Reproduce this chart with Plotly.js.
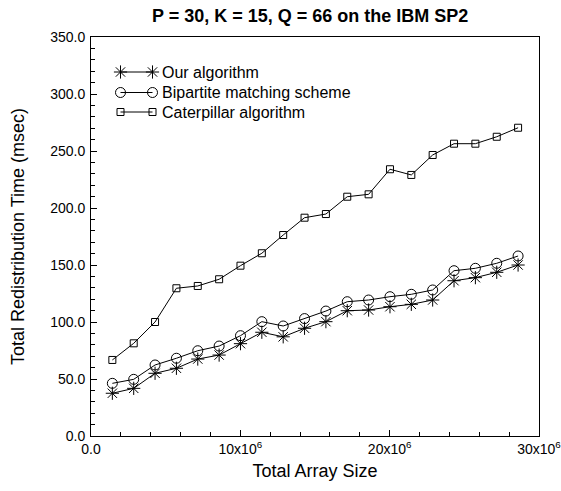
<!DOCTYPE html>
<html>
<head>
<meta charset="utf-8">
<script src="https://cdn.plot.ly/plotly-3.0.1.min.js"></script>
<style>html,body{margin:0;padding:0;background:#fff;}#chart{width:561px;height:491px;}</style>
</head>
<body>
<div id="chart"></div>
<script>
// ---- data ----
var arraySize = [1.43e6, 2.86e6, 4.29e6, 5.72e6, 7.15e6, 8.58e6, 10.01e6, 11.44e6, 12.87e6, 14.3e6,
                 15.73e6, 17.16e6, 18.59e6, 20.02e6, 21.45e6, 22.88e6, 24.31e6, 25.74e6, 27.17e6, 28.6e6];
var ourAlgorithm = [37.5, 41.8, 55, 59.4, 67.5, 71, 81, 91, 87, 94.5,
                    100.3, 109.9, 110.5, 113.4, 115.5, 119.3, 136.2, 138.9, 143.6, 150];
var bipartite = [46.2, 49.7, 62.3, 68.2, 74.8, 78.9, 88, 100.3, 96.5, 103,
                 109.6, 117.8, 119.3, 122.2, 124.3, 128.1, 145, 147.1, 151.5, 157.9];
var caterpillar = [66.7, 81.3, 100, 129.6, 131.6, 137.5, 149.4, 160.3, 176.3, 191.5,
                   194.7, 209.9, 212, 234, 229, 246.5, 256.4, 256.4, 262.5, 270.4];
var seriesNames = ["Our algorithm", "Bipartite matching scheme", "Caterpillar algorithm"];
var xTickVals = [0, 10e6, 20e6, 30e6];
var xTickText = ["0.0", "10x10<sup>6</sup>", "20x10<sup>6</sup>", "30x10<sup>6</sup>"];

// ---- styling ----
var FONT = "Liberation Sans, Arial, sans-serif";
var symbols = ["asterisk-open", "circle-open", "square-open"];
var sizes = [11, 10, 7];
var seriesData = [ourAlgorithm, bipartite, caterpillar];

var traces = [];
for (var s = 0; s < 3; s++) {
  traces.push({
    x: arraySize, y: seriesData[s], name: seriesNames[s],
    type: "scatter", mode: "lines+markers", showlegend: false,
    line: {color: "#000", width: 1},
    marker: {symbol: symbols[s], size: sizes[s], color: "#000", line: {color: "#000", width: 1}},
    cliponaxis: false
  });
}

// custom legend (line with a marker at both ends), drawn on an overlay axis in pixel units
var legRowY = [35, 55.5, 75];
var legX = [29.5, 61.5];
var annotations = [];
for (var s = 0; s < 3; s++) {
  traces.push({
    x: legX, y: [legRowY[s], legRowY[s]], xaxis: "x2", yaxis: "y2",
    type: "scatter", mode: "lines+markers", showlegend: false, hoverinfo: "skip",
    line: {color: "#000", width: 1},
    marker: {symbol: symbols[s], size: sizes[s], color: "#000", line: {color: "#000", width: 1}}
  });
  annotations.push({
    x: 69, y: legRowY[s], xref: "x2", yref: "y2", xanchor: "left", yanchor: "middle",
    text: seriesNames[s], showarrow: false, font: {family: FONT, size: 16, color: "#000"}
  });
}

var layout = {
  width: 561, height: 491,
  margin: {l: 91, r: 22, t: 37, b: 55, pad: 0},
  paper_bgcolor: "#fff", plot_bgcolor: "#fff",
  font: {family: FONT, color: "#000"},
  title: {text: "<b>P = 30, K = 15, Q = 66 on the IBM SP2</b>", font: {family: FONT, size: 18, color: "#000"},
          x: 0.553, xanchor: "center", y: 0.968, yanchor: "middle"},
  xaxis: {
    range: [0, 30e6], showgrid: false, zeroline: false,
    showline: true, mirror: true, linecolor: "#000", linewidth: 1,
    ticks: "inside", ticklen: 6, tickwidth: 1, tickcolor: "#000",
    tickvals: xTickVals, ticktext: xTickText, ticklabeloverflow: "allow",
    tickfont: {family: FONT, size: 14, color: "#000"},
    minor: {dtick: 2e6, ticks: "inside", ticklen: 4, tickcolor: "#000", tickwidth: 1, showgrid: false},
    title: {text: "Total Array Size", font: {family: FONT, size: 18, color: "#000"}, standoff: 8}
  },
  yaxis: {
    range: [0, 350], showgrid: false, zeroline: false,
    showline: true, mirror: true, linecolor: "#000", linewidth: 1,
    ticks: "inside", ticklen: 6, tickwidth: 1, tickcolor: "#000",
    dtick: 50, tick0: 0, tickformat: ".1f", ticklabelstandoff: 2,
    tickfont: {family: FONT, size: 14, color: "#000"},
    minor: {dtick: 10, ticks: "inside", ticklen: 4, tickcolor: "#000", tickwidth: 1, showgrid: false},
    title: {text: "Total Redistribution Time (msec)", font: {family: FONT, size: 18, color: "#000"}, standoff: 20}
  },
  xaxis2: {overlaying: "x", anchor: "y2", range: [0, 448], visible: false, fixedrange: true},
  yaxis2: {overlaying: "y", anchor: "x2", range: [399, 0], visible: false, fixedrange: true},
  annotations: annotations
};

Plotly.newPlot("chart", traces, layout, {displayModeBar: false, staticPlot: true});
</script>
</body>
</html>
